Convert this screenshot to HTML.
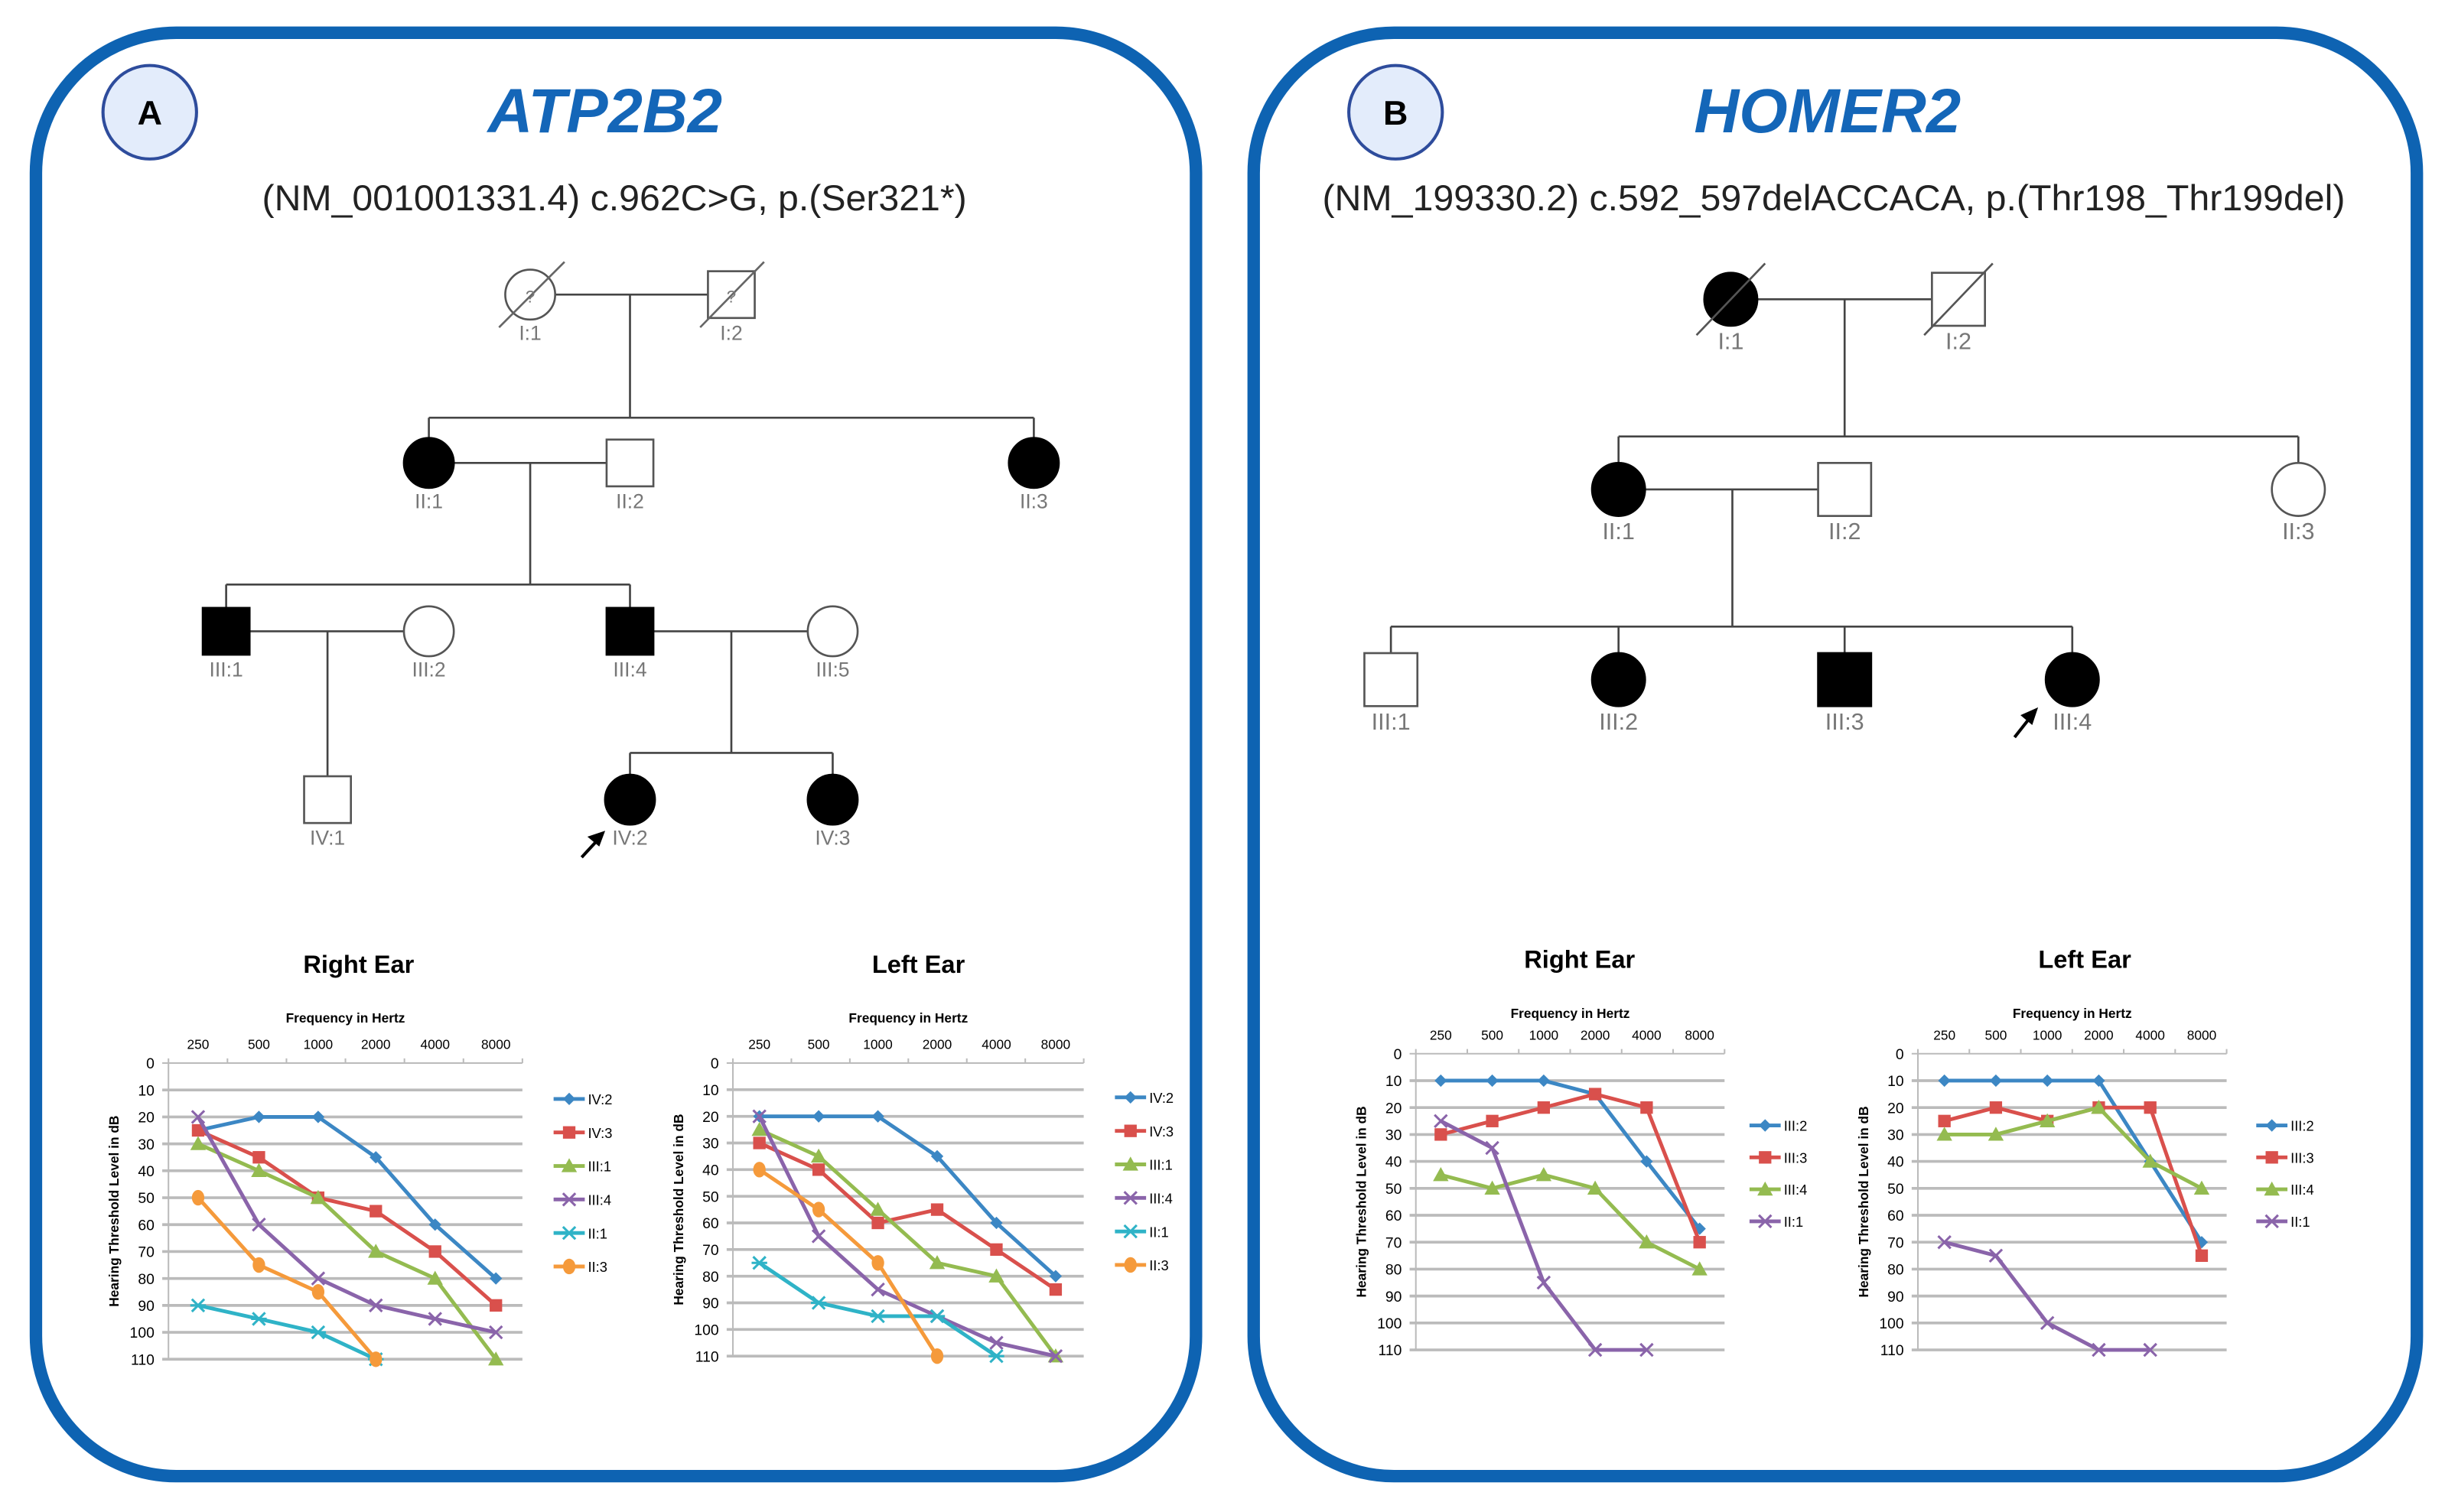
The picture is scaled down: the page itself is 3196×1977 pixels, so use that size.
<!DOCTYPE html>
<html><head><meta charset="utf-8">
<style>
html,body{margin:0;padding:0;background:#fff;}
svg{display:block;}
text{font-family:"Liberation Sans",sans-serif;}
</style></head>
<body>
<svg id="s" width="3196" height="1977" viewBox="0 0 1568 970" xmlns="http://www.w3.org/2000/svg">
<rect x="0" y="0" width="1568" height="970" fill="#fff"/>
<rect x="23" y="21" width="744" height="926" rx="90" ry="90" fill="#fff" stroke="#0e63b2" stroke-width="8"/>
<rect x="804" y="21" width="746" height="926" rx="90" ry="90" fill="#fff" stroke="#0e63b2" stroke-width="8"/>
<circle cx="96" cy="72" r="30" fill="#e3ecfb" stroke="#2e4c9c" stroke-width="2"/>
<text x="96" y="80" font-size="22" font-weight="bold" text-anchor="middle">A</text>
<circle cx="895" cy="72" r="30" fill="#e3ecfb" stroke="#2e4c9c" stroke-width="2"/>
<text x="895" y="80" font-size="22" font-weight="bold" text-anchor="middle">B</text>
<text x="388" y="85" font-size="40" font-weight="bold" font-style="italic" fill="#1466b8" text-anchor="middle">ATP2B2</text>
<text x="1172" y="85" font-size="40" font-weight="bold" font-style="italic" fill="#1466b8" text-anchor="middle">HOMER2</text>
<text x="168" y="135" font-size="23" fill="#222" textLength="452" lengthAdjust="spacingAndGlyphs">(NM_001001331.4) c.962C&gt;G, p.(Ser321*)</text>
<text x="848" y="135" font-size="23" fill="#222" textLength="656" lengthAdjust="spacingAndGlyphs">(NM_199330.2) c.592_597delACCACA, p.(Thr198_Thr199del)</text>
<g id="ped" stroke="#444" stroke-width="1.3" fill="none"></g>
<g id="charts"></g>
</svg>
<script>
var NS="http://www.w3.org/2000/svg";
function el(p,t,a,txt){var e=document.createElementNS(NS,t);for(var k in a)e.setAttribute(k,a[k]);if(txt!==undefined)e.textContent=txt;p.appendChild(e);return e;}
var ped=document.getElementById('ped'),svg=document.getElementById('s');
function L(x1,y1,x2,y2,c,w){el(ped,'line',{x1:x1,y1:y1,x2:x2,y2:y2,stroke:c||'#444','stroke-width':w||1.3});}
function circ(x,y,r,f){el(ped,'circle',{cx:x,cy:y,r:r,fill:f?'#000':'#fff',stroke:f?'#000':'#555'});}
function sq(x,y,s,f){el(ped,'rect',{x:x-s/2,y:y-s/2,width:s,height:s,fill:f?'#000':'#fff',stroke:f?'#000':'#555'});}
function lab(x,y,t,fs){el(svg,'text',{x:x,y:y,'font-size':fs||13,fill:'#777','text-anchor':'middle'},t);}
L(356,189,454,189);L(404,189,404,268);L(275,268,663,268);L(275,268,275,281);L(663,268,663,281);
L(291,297,389,297);L(340,297,340,375);L(145,375,404,375);L(145,375,145,390);L(404,375,404,390);
L(160,405,259,405);L(419,405,518,405);L(210,405,210,498);L(469,405,469,483);L(404,483,534,483);L(404,483,404,497);L(534,483,534,497);
circ(340,189,16,false);sq(469,189,30,false);
L(320,210,362,168,'#666');L(449,210,490,168,'#666');
lab(340,194,'?',11);lab(469,194,'?',11);
circ(275,297,16,true);sq(404,297,30,false);circ(663,297,16,true);
sq(145,405,30,true);circ(275,405,16,false);sq(404,405,30,true);circ(534,405,16,false);
sq(210,513,30,false);circ(404,513,16,true);circ(534,513,16,true);
lab(340,218,'I:1');lab(469,218,'I:2');lab(275,326,'II:1');lab(404,326,'II:2');lab(663,326,'II:3');
lab(145,434,'III:1');lab(275,434,'III:2');lab(404,434,'III:4');lab(534,434,'III:5');
lab(210,542,'IV:1');lab(404,542,'IV:2');lab(534,542,'IV:3');
L(373,550,385,537,'#000',2);el(ped,'path',{d:'M387,534 L378,537 L384,542 Z',fill:'#000',stroke:'#000'});
L(1127,192,1239,192);L(1183,192,1183,280);L(1038,280,1474,280);L(1038,280,1038,297);L(1474,280,1474,297);
L(1055,314,1166,314);L(1111,314,1111,402);L(892,402,1329,402);L(892,402,892,419);L(1038,402,1038,419);L(1183,402,1183,419);L(1329,402,1329,419);
circ(1110,192,17,true);sq(1256,192,34,false);
L(1088,215,1132,169,'#555');L(1234,215,1278,169,'#555');
circ(1038,314,17,true);sq(1183,314,34,false);circ(1474,314,17,false);
sq(892,436,34,false);circ(1038,436,17,true);sq(1183,436,34,true);circ(1329,436,17,true);
lab(1110,224,'I:1',15);lab(1256,224,'I:2',15);lab(1038,346,'II:1',15);lab(1183,346,'II:2',15);lab(1474,346,'II:3',15);
lab(892,468,'III:1',15);lab(1038,468,'III:2',15);lab(1183,468,'III:3',15);lab(1329,468,'III:4',15);
L(1292,473,1303,459,'#000',2);el(ped,'path',{d:'M1306,455 L1297,459 L1303,464 Z',fill:'#000',stroke:'#000'});
var C={b:'#3c87c4',r:'#d9504c',g:'#94bb50',p:'#8a64aa',c:'#2fb3c7',o:'#f59a3b'};
var ch=document.getElementById('charts');
function marker(g,type,x,y,col){
 if(type=='d')el(g,'path',{d:'M'+x+','+(y-4)+'L'+(x+4)+','+y+'L'+x+','+(y+4)+'L'+(x-4)+','+y+'Z',fill:col});
 else if(type=='s')el(g,'rect',{x:x-4,y:y-4,width:8,height:8,fill:col});
 else if(type=='t')el(g,'path',{d:'M'+x+','+(y-5)+'L'+(x+5)+','+(y+4)+'L'+(x-5)+','+(y+4)+'Z',fill:col});
 else if(type=='x'){el(g,'path',{d:'M'+(x-4)+','+(y-4)+'L'+(x+4)+','+(y+4)+'M'+(x+4)+','+(y-4)+'L'+(x-4)+','+(y+4),stroke:col,'stroke-width':1.5});}
 else if(type=='a'){el(g,'path',{d:'M'+(x-4)+','+(y-4)+'L'+(x+4)+','+(y+4)+'M'+(x+4)+','+(y-4)+'L'+(x-4)+','+(y+4)+'M'+(x-5)+','+y+'L'+(x+5)+','+y,stroke:col,'stroke-width':1.5});}
 else if(type=='o')el(g,'ellipse',{cx:x,cy:y,rx:4,ry:5,fill:col});
}
function chart(o){
 var g=el(ch,'g',{});
 var xs=o.xs,y0=o.y0,y1=o.y1,dy=(y1-y0)/11;
 el(g,'text',{x:o.tx,y:o.ty,'font-size':16,'font-weight':'bold','text-anchor':'middle'},o.title);
 el(g,'text',{x:(o.x0+o.x1)/2,y:o.ty+32,'font-size':8.5,'font-weight':'bold','text-anchor':'middle'},'Frequency in Hertz');
 var fr=['250','500','1000','2000','4000','8000'];
 for(var i=0;i<6;i++)el(g,'text',{x:xs[i],y:y0-9,'font-size':8.5,'text-anchor':'middle'},fr[i]);
 for(var k=0;k<=11;k++){var yy=y0+k*dy;el(g,'line',{x1:o.x0-4,y1:yy,x2:o.x1,y2:yy,stroke:'#bbb','stroke-width':k==0?1:1.8});
  el(g,'text',{x:o.x0-9,y:yy+3.5,'font-size':9.5,'text-anchor':'end'},String(k*10));}
 el(g,'line',{x1:o.x0,y1:y0,x2:o.x0,y2:y1,stroke:'#bbb','stroke-width':1});
 var step=(o.x1-o.x0)/6;for(var k=0;k<=6;k++)el(g,'line',{x1:o.x0+k*step,y1:y0-3,x2:o.x0+k*step,y2:y0,stroke:'#bbb'});
 var ax=o.x0-32,ay=(y0+y1)/2;
 el(g,'text',{x:ax,y:ay,'font-size':8.5,'font-weight':'bold','text-anchor':'middle',transform:'rotate(-90 '+ax+' '+ay+')'},'Hearing  Threshold Level in dB');
 o.series.forEach(function(s,si){
  var pts=s.v.map(function(v,i){return [xs[i],y0+v*dy/10];});
  el(g,'polyline',{points:pts.map(function(p){return p.join(',')}).join(' '),fill:'none',stroke:C[s.c],'stroke-width':2.4});
  pts.forEach(function(p){marker(g,s.m,p[0],p[1],C[s.c]);});
  var ly=o.ly+si*o.lstep;
  el(g,'line',{x1:o.lx,y1:ly,x2:o.lx+20,y2:ly,stroke:C[s.c],'stroke-width':2.4});
  marker(g,s.m,o.lx+10,ly,C[s.c]);
  el(g,'text',{x:o.lx+22,y:ly+3.5,'font-size':9},s.n);
 });
}
var sA=[['IV:2','b','d'],['IV:3','r','s'],['III:1','g','t'],['III:4','p','x'],['II:1','c','a'],['II:3','o','o']];
var sB=[['III:2','b','d'],['III:3','r','s'],['III:4','g','t'],['II:1','p','x']];
function mk(names,vals){return names.map(function(n,i){return {n:n[0],c:n[1],m:n[2],v:vals[i]};});}
chart({title:'Right Ear',tx:230,ty:624,x0:108,x1:335,xs:[127,166,204,241,279,318],y0:682,y1:872,lx:355,ly:705,lstep:21.5,
 series:mk(sA,[[25,20,20,35,60,80],[25,35,50,55,70,90],[30,40,50,70,80,110],[20,60,80,90,95,100],[90,95,100,110],[50,75,85,110]])});
chart({title:'Left Ear',tx:589,ty:624,x0:470,x1:695,xs:[487,525,563,601,639,677],y0:682,y1:870,lx:715,ly:704,lstep:21.5,
 series:mk(sA,[[20,20,20,35,60,80],[30,40,60,55,70,85],[25,35,55,75,80,110],[20,65,85,95,105,110],[75,90,95,95,110],[40,55,75,110]])});
chart({title:'Right Ear',tx:1013,ty:621,x0:908,x1:1106,xs:[924,957,990,1023,1056,1090],y0:676,y1:866,lx:1122,ly:722,lstep:20.5,
 series:mk(sB,[[10,10,10,15,40,65],[30,25,20,15,20,70],[45,50,45,50,70,80],[25,35,85,110,110]])});
chart({title:'Left Ear',tx:1337,ty:621,x0:1230,x1:1428,xs:[1247,1280,1313,1346,1379,1412],y0:676,y1:866,lx:1447,ly:722,lstep:20.5,
 series:mk(sB,[[10,10,10,10,40,70],[25,20,25,20,20,75],[30,30,25,20,40,50],[70,75,100,110,110]])});
</script>
</body></html>
